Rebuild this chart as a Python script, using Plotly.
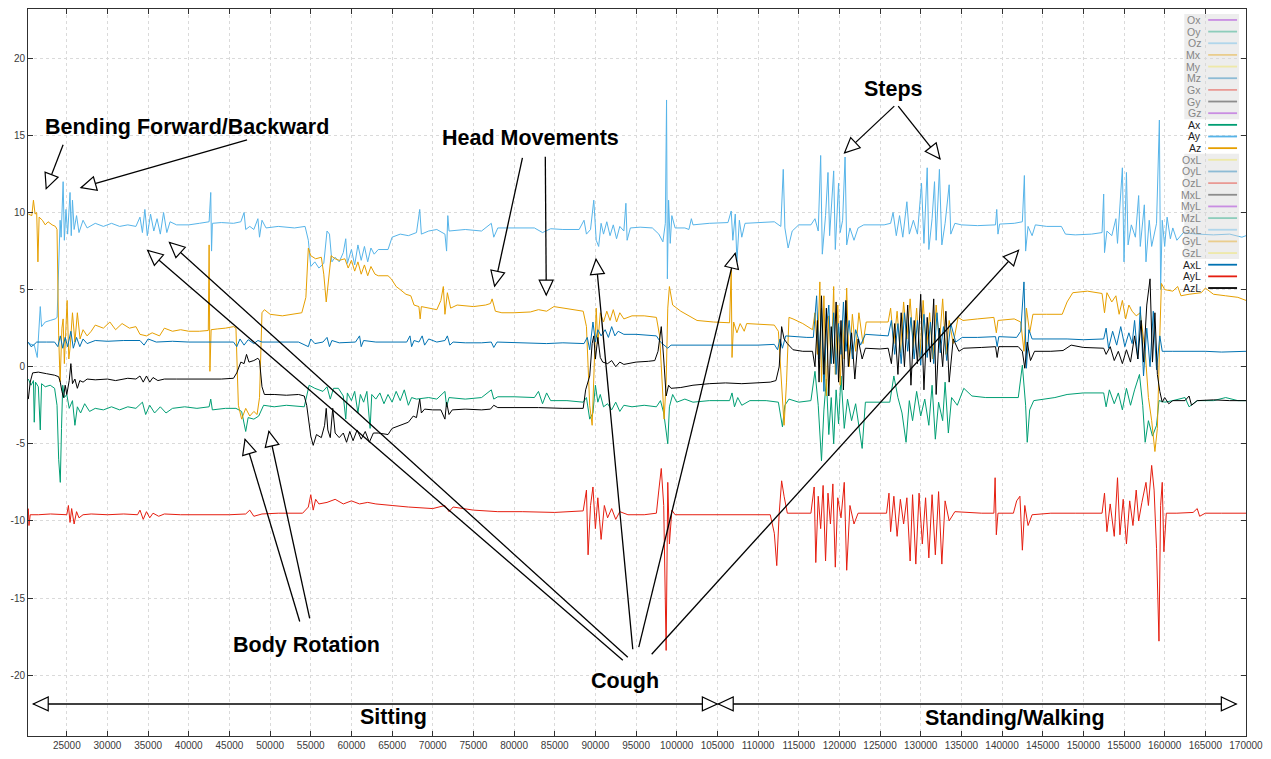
import plotly.graph_objects as go

# ---------------- axes ----------------
X_RANGE = [20230, 170000]
Y_RANGE = [-23.95, 23.2]
X_TICKS = list(range(25000, 170001, 5000))
Y_TICKS = [-20, -15, -10, -5, 0, 5, 10, 15, 20]

# ---------------- data (sample index, value) ----------------
AX = [(20270, -0.8), (20600, -1.2), (20900, -0.9), (21000, -3.6), (21150, -1.0), (21500, -1.3), (21740, -4.1), (21900, -1.1),
      (22350, -1.3), (22960, -1.2), (23500, -1.4), (23800, -2.5), (24000, -6.0), (24200, -7.5), (24350, -4.0), (24500, -1.2),
      (24700, -2.0), (25000, -1.8), (25300, -2.7), (25700, -2.2), (26000, -3.8), (26300, -2.6), (26700, -3.0), (27200, -2.4),
      (27800, -2.9), (28500, -2.7), (29500, -2.8), (30500, -2.6), (31500, -2.8), (32500, -2.6), (33500, -2.7), (34300, -2.3),
      (34700, -3.1), (35200, -2.5), (35800, -3.0), (36500, -2.6), (37200, -3.0), (38000, -2.7), (39500, -2.6), (41000, -2.7),
      (42500, -2.6), (42700, -2.1), (42900, -2.8), (44500, -2.7), (45800, -2.7), (46500, -2.9), (47000, -4.2), (47300, -3.3),
      (48000, -3.4), (48600, -3.2), (49200, -2.5), (50500, -2.6), (52000, -2.5), (54200, -2.6), (54800, -1.2), (55500, -1.4),
      (56500, -1.6), (57000, -1.3), (57400, -2.1), (57800, -1.4), (58400, -1.4), (59000, -1.9), (59300, -3.4), (59500, -1.7),
      (60000, -2.2), (60400, -1.6), (60800, -3.0), (61100, -1.8), (61500, -2.3), (61900, -1.6), (62300, -4.0), (62500, -1.8),
      (63000, -2.1), (63500, -1.7), (64000, -2.4), (64500, -1.8), (65000, -2.3), (65500, -1.6), (66000, -2.2), (66500, -1.5),
      (67000, -2.5), (67400, -2.0), (68000, -2.1), (69500, -2.0), (70500, -2.1), (71500, -1.6), (71700, -2.6), (72000, -2.0),
      (74000, -2.1), (76000, -2.0), (77200, -1.5), (77500, -2.1), (78000, -1.95), (80000, -1.95), (82500, -2.0), (83000, -1.6),
      (83500, -2.4), (84000, -1.7), (84500, -2.2), (86500, -2.2), (88500, -2.3), (88900, -2.0), (89300, -3.4), (89700, -3.0),
      (90000, -1.2), (90300, -2.3), (90600, -1.8), (91000, -2.6), (91500, -2.4), (92000, -2.8), (92500, -2.3), (93000, -2.9),
      (93500, -2.5), (94500, -2.6), (96000, -2.5), (97500, -2.6), (98000, -2.2), (98400, -3.0), (98900, -5.0), (99100, -2.6),
      (99500, -1.8), (100000, -2.3), (101000, -2.1), (102000, -2.3), (104000, -2.2), (106500, -2.2), (106800, -1.7),
      (107100, -2.6), (107500, -2.0), (108000, -2.5), (109000, -2.2), (111000, -2.2), (112500, -2.3), (113000, -3.9),
      (113300, -2.5), (113800, -2.1), (115000, -2.3), (116500, -2.2), (117000, -0.3), (117400, -2.5), (117800, -6.1),
      (118100, -2.8), (118400, -0.8), (118700, -4.4), (119000, -2.0), (119300, -5.0), (119600, -1.5), (119900, -3.7),
      (120200, -0.6), (120600, -4.0), (121000, -2.1), (121500, -3.5), (122000, -2.4), (122800, -5.3), (123200, -2.3),
      (125000, -2.3), (126200, -2.3), (126700, -0.6), (127200, -2.0), (127700, -3.0), (128200, -4.9), (128600, -2.2),
      (129000, -3.5), (129500, -1.6), (130000, -3.2), (130500, -2.1), (131000, -3.8), (131400, -1.2), (131800, -4.7),
      (132200, -2.3), (132700, -3.5), (133000, -1.0), (133400, -4.3), (133800, -2.0), (134500, -2.5), (135300, -1.4),
      (136300, -1.9), (138000, -2.0), (140000, -2.0), (142000, -2.0), (142500, 0.1), (142900, -2.5), (143100, -4.9),
      (143400, -2.8), (143900, -2.2), (145000, -2.1), (146500, -2.0), (148000, -1.8), (150000, -1.7), (152500, -1.7),
      (152800, -2.6), (153200, -1.5), (153800, -2.4), (154300, -1.7), (154800, -2.8), (155300, -1.4), (155800, -2.5),
      (156300, -1.5), (156900, -0.5), (157300, -2.5), (157600, -4.9), (158000, -3.5), (158500, -4.5), (159000, -3.8),
      (159300, -2.2), (160000, -2.3), (161000, -2.2), (162500, -2.0), (163000, -2.6), (164000, -2.2), (166000, -2.2),
      (167500, -2.0), (169000, -2.2), (170000, -2.2)]

AY = [(20270, 1.5), (21000, 1.4), (21370, 0.6), (21500, 1.6), (21740, 3.9), (21900, 2.6), (22350, 2.9), (22960, 3.0),
      (23570, 3.1), (23810, 3.2), (24000, 7.0), (24180, 9.5), (24300, 8.4), (24550, 12.0), (24700, 8.2), (24900, 10.2),
      (25100, 8.6), (25400, 11.3), (25550, 8.5), (25700, 10.8), (25900, 8.9), (26200, 9.8), (26500, 8.7), (27000, 9.5),
      (27500, 9.0), (28500, 9.3), (29500, 9.1), (30500, 9.3), (31500, 9.1), (32500, 9.2), (33500, 9.1), (34000, 9.7),
      (34300, 8.7), (34600, 10.2), (34900, 8.5), (35300, 9.9), (35700, 8.8), (36100, 9.6), (36500, 8.6), (36900, 10.0),
      (37300, 8.7), (37700, 9.4), (38500, 9.2), (40000, 9.2), (41300, 9.3), (42500, 9.4), (42700, 11.3), (42800, 7.5),
      (42900, 9.3), (44000, 9.35), (45500, 9.3), (46400, 9.4), (46800, 10.0), (47000, 8.9), (47500, 9.1), (48000, 8.9),
      (48500, 9.6), (48700, 8.4), (49000, 9.5), (49500, 9.0), (51000, 9.1), (53000, 9.0), (54300, 9.1), (54700, 8.2),
      (55000, 6.5), (55500, 6.8), (56000, 6.4), (56600, 6.7), (57000, 8.8), (57300, 8.6), (57600, 6.8), (58000, 7.1),
      (58500, 6.8), (59000, 7.4), (59300, 8.3), (59500, 6.7), (60000, 7.6), (60400, 6.6), (60800, 7.9), (61200, 6.9),
      (61600, 7.8), (62000, 6.8), (62400, 7.7), (62800, 7.3), (63300, 7.6), (64500, 7.6), (65000, 8.4), (66000, 8.6),
      (67000, 8.5), (68000, 8.7), (68400, 10.2), (68600, 8.6), (69500, 8.8), (70500, 8.9), (71500, 8.6), (71700, 7.5),
      (71850, 9.8), (72000, 8.8), (74000, 8.9), (76000, 8.8), (77200, 9.3), (77500, 8.4), (78000, 9.0), (80000, 9.0),
      (82500, 9.0), (83500, 8.7), (84500, 8.95), (86000, 8.9), (88000, 8.9), (88600, 9.5), (88900, 8.6), (89400, 8.9),
      (89800, 10.8), (90100, 8.2), (90400, 7.8), (90700, 9.3), (91000, 8.6), (91400, 9.4), (91800, 8.5), (92200, 9.2),
      (92600, 8.3), (93000, 9.1), (93500, 8.8), (93750, 10.6), (93900, 8.2), (94300, 9.0), (95500, 9.05), (97000, 9.0),
      (97800, 8.6), (98300, 8.1), (98600, 9.3), (98750, 17.3), (98850, 5.7), (99000, 10.8), (99200, 8.0), (99400, 9.8),
      (99800, 9.0), (101000, 9.0), (101500, 8.9), (101800, 9.6), (102000, 9.2), (104000, 9.3), (106300, 9.35),
      (106700, 10.1), (106900, 8.2), (107200, 9.9), (107400, 6.8), (107700, 9.5), (108000, 8.4), (108400, 9.3),
      (110000, 9.35), (112000, 9.4), (112800, 9.1), (113100, 12.8), (113300, 9.0), (113700, 7.7), (114200, 8.8),
      (115000, 9.2), (116500, 9.2), (117000, 9.6), (117400, 8.8), (117700, 13.7), (117900, 7.3), (118300, 9.8),
      (118600, 12.6), (118800, 8.5), (119300, 12.7), (119500, 7.6), (119900, 11.9), (120100, 8.7), (120400, 9.5),
      (120700, 13.6), (120900, 7.9), (121300, 9.0), (121800, 8.2), (122300, 9.0), (123000, 9.2), (125500, 9.2),
      (126300, 9.3), (126600, 10.0), (127000, 8.5), (127400, 9.8), (127800, 8.4), (128300, 10.7), (128600, 8.6),
      (129100, 9.5), (129600, 8.6), (130100, 11.9), (130400, 8.0), (130800, 12.9), (131000, 7.6), (131400, 9.6),
      (131700, 12.0), (131900, 8.2), (132300, 12.8), (132600, 7.9), (133000, 9.3), (133500, 11.8), (133700, 8.6),
      (134200, 9.3), (135000, 9.2), (137000, 9.15), (139200, 9.2), (139350, 10.2), (139500, 8.6), (139700, 9.25),
      (141500, 9.3), (142500, 9.4), (142750, 12.4), (142900, 7.5), (143200, 9.1), (143700, 8.5), (144100, 9.2),
      (145500, 9.1), (147300, 9.1), (147800, 8.6), (149000, 8.55), (151000, 8.6), (152300, 8.7), (152500, 11.2),
      (152600, 7.4), (152900, 8.8), (153500, 8.5), (154000, 9.6), (154200, 8.0), (154800, 12.9), (155000, 6.8),
      (155300, 12.6), (155500, 7.9), (155900, 9.2), (156400, 8.4), (156800, 11.1), (157000, 7.8), (157500, 10.5),
      (157700, 6.8), (158100, 9.5), (158400, 7.8), (159000, 9.3), (159350, 16.0), (159500, 5.0), (159700, 9.5),
      (160000, 7.8), (160300, 9.7), (160700, 8.3), (161000, 9.0), (161500, 8.2), (162300, 8.7), (164000, 8.6),
      (166000, 8.55), (168000, 8.6), (169500, 8.4), (170000, 8.5)]

AZ = [(20270, 9.9), (20700, 9.8), (20900, 10.8), (21100, 9.9), (21300, 10.0), (21450, 6.8), (21600, 9.7), (22000, 9.5),
      (22350, 9.2), (22700, 9.4), (23200, 9.2), (23600, 9.1), (23800, 8.9), (24000, 2.0), (24180, -1.0), (24400, 2.5),
      (24550, 3.1), (24700, 0.2), (25040, 4.3), (25250, 0.5), (25400, 1.2), (25700, 3.5), (26000, 1.6), (26300, 3.5),
      (26630, 1.8), (27000, 2.4), (27500, 2.0), (28000, 2.3), (28500, 2.7), (29500, 2.5), (30300, 2.9), (31000, 2.4),
      (31800, 2.8), (32700, 2.5), (33500, 2.6), (34000, 2.1), (34800, 2.0), (35500, 2.2), (36400, 2.0), (37000, 2.5),
      (38000, 2.3), (39000, 2.4), (40000, 2.3), (41300, 2.3), (42400, 2.35), (42500, 7.9), (42600, -0.3), (42750, 2.4),
      (43500, 2.45), (44500, 2.5), (45500, 2.6), (45800, 2.5), (46100, -2.5), (46500, -3.4), (47000, -2.7), (47500, -3.2),
      (48000, -2.9), (48400, -3.1), (48700, -2.0), (49000, 3.5), (49300, 3.7), (50000, 3.4), (51500, 3.3), (53000, 3.4),
      (53900, 3.5), (54400, 4.5), (54700, 7.7), (55000, 7.2), (55600, 7.0), (56300, 7.1), (56600, 6.0), (56900, 4.2),
      (57200, 5.5), (57500, 7.2), (58000, 7.0), (58500, 6.9), (59200, 7.0), (59600, 6.4), (60000, 6.9), (60400, 6.2),
      (60800, 6.8), (61200, 6.0), (61600, 6.6), (62000, 5.9), (62400, 6.5), (62900, 6.0), (63300, 5.9), (64500, 5.9),
      (64900, 5.7), (65500, 5.2), (66000, 5.0), (66700, 4.7), (67300, 4.6), (67700, 4.0), (68300, 3.9), (68450, 3.1),
      (68600, 3.9), (69500, 3.8), (70500, 3.7), (71000, 4.3), (71300, 5.2), (71500, 3.4), (71800, 4.8), (72200, 3.8),
      (73000, 4.0), (75000, 3.9), (76500, 4.0), (77100, 4.1), (77300, 4.4), (77700, 3.6), (78500, 3.5), (80000, 3.5),
      (82000, 3.55), (83000, 3.7), (84000, 3.6), (84900, 3.9), (86000, 3.8), (87500, 3.7), (88500, 3.6), (88900, 2.6),
      (89300, -2.5), (89600, -3.8), (89900, 0.5), (90100, 3.8), (90300, 1.5), (90600, 3.5), (91000, 2.9), (91400, 3.6),
      (91800, 3.0), (92200, 3.7), (92600, 2.9), (93000, 3.5), (93500, 3.1), (94500, 3.3), (96000, 3.3), (97500, 3.2),
      (97900, 2.0), (98200, -1.5), (98450, -3.4), (98700, -1.0), (98900, 3.8), (99100, 5.2), (99500, 4.0), (100500, 3.6),
      (101600, 3.3), (102500, 3.0), (104500, 2.9), (106500, 2.85), (106700, 6.3), (106800, 0.6), (107000, 2.9),
      (107400, 2.2), (107800, 2.8), (108300, 2.3), (108600, 2.8), (110000, 2.75), (112000, 2.7), (112500, 2.3),
      (112900, -1.5), (113200, -3.8), (113500, -1.0), (113800, 3.2), (114300, 3.1), (115500, 2.8), (116700, 2.4),
      (117000, 3.5), (117300, 0.8), (117600, 5.5), (117800, -1.0), (118100, 4.6), (118400, -1.9), (118700, 3.3),
      (119000, 0.2), (119300, 5.2), (119500, -0.5), (119800, 4.0), (120100, -1.2), (120400, 3.0), (120600, 0.5),
      (120900, 5.1), (121200, 0.0), (121600, 3.4), (122000, 1.0), (122400, 3.5), (122900, 1.5), (123300, 2.9),
      (125000, 2.9), (126000, 2.9), (126300, 3.8), (126700, 1.5), (127100, 3.6), (127500, 0.9), (127900, 4.2),
      (128300, 1.8), (128700, 4.4), (129100, 1.2), (129500, 3.8), (129900, 0.6), (130300, 4.3), (130700, 1.0),
      (131100, 3.5), (131500, 0.5), (131900, 4.0), (132300, 1.5), (132700, 4.4), (133100, 0.8), (133500, 3.0),
      (134000, 1.5), (134600, 3.2), (135200, 3.0), (137000, 3.1), (139000, 3.2), (139300, 2.2), (139500, 3.0),
      (141500, 3.1), (142300, 2.9), (142700, 1.0), (143000, 3.8), (143400, 2.2), (143800, 3.4), (145500, 3.4),
      (147400, 3.4), (148000, 4.2), (148700, 4.8), (150500, 4.9), (152300, 4.75), (152600, 3.5), (152900, 4.8),
      (153500, 4.2), (154000, 4.6), (154400, 3.4), (154800, 4.3), (155200, 3.1), (155600, 4.0), (156000, 3.6),
      (156500, 3.3), (157000, 3.5), (157600, 1.0), (158000, -2.0), (158400, -3.5), (158800, -5.5), (159100, -4.0),
      (159400, 2.0), (159600, 5.4), (160000, 5.0), (161000, 4.9), (161600, 5.2), (162000, 4.6), (163000, 4.7),
      (164500, 4.8), (165000, 5.1), (166000, 4.7), (167500, 4.6), (169000, 4.5), (170000, 4.3)]

AXL = [(20270, 1.6), (20600, 1.3), (20900, 1.4), (21300, 1.6), (22500, 1.6), (23500, 1.6), (23900, 1.3), (24200, 2.0),
       (24500, 1.2), (24800, 1.9), (25100, 1.3), (25500, 2.3), (25800, 1.2), (26200, 1.9), (26600, 1.3), (27000, 1.8),
       (27500, 1.5), (28500, 1.7), (30000, 1.65), (32000, 1.7), (34000, 1.7), (34500, 1.4), (35000, 1.8), (36000, 1.6),
       (38000, 1.65), (40000, 1.6), (42000, 1.6), (44000, 1.6), (45500, 1.6), (45900, 1.3), (46300, 1.8), (46800, 1.4),
       (47300, 1.75), (48000, 1.5), (48500, 1.7), (49000, 1.6), (51000, 1.6), (53500, 1.6), (54700, 1.3), (55000, 1.8),
       (55500, 1.5), (56500, 1.6), (57000, 1.9), (57300, 1.3), (57600, 1.7), (58500, 1.55), (60500, 1.6), (61000, 2.0),
       (61200, 1.3), (61500, 1.7), (63000, 1.6), (65000, 1.6), (66800, 1.6), (67200, 2.0), (67400, 1.3), (67700, 1.7),
       (68300, 1.6), (68700, 2.0), (69000, 1.4), (69500, 1.8), (70500, 1.6), (71500, 1.7), (71800, 2.0), (72100, 1.4),
       (72500, 1.6), (74000, 1.55), (76000, 1.55), (77200, 1.6), (77500, 1.25), (77900, 1.6), (80000, 1.55), (82000, 1.55),
       (84000, 1.5), (86000, 1.55), (88000, 1.5), (88600, 1.5), (89000, 1.9), (89300, 1.1), (89700, 2.9), (90000, 1.6),
       (90300, 2.4), (90700, 2.0), (91200, 2.4), (91600, 1.9), (92000, 2.6), (92400, 2.0), (92800, 2.3), (93500, 2.1),
       (95000, 2.1), (96500, 2.05), (97500, 2.0), (98000, 1.6), (98500, 1.4), (98900, 1.2), (99300, 1.4), (101000, 1.4),
       (104000, 1.4), (106500, 1.4), (108000, 1.4), (110000, 1.4), (112000, 1.45), (112400, 1.1), (112700, 1.8),
       (113000, 1.2), (113400, 2.0), (114500, 1.95), (116000, 1.9), (116800, 1.9), (117200, 4.6), (117500, 0.5),
       (117800, 3.8), (118100, -1.6), (118400, 2.5), (118700, 4.0), (119000, 0.2), (119300, 3.5), (119600, -0.5),
       (119900, 2.8), (120200, 0.8), (120500, 4.2), (120800, 1.0), (121200, 3.0), (121600, 0.5), (122000, 2.4),
       (122600, 1.4), (123200, 2.1), (125000, 2.05), (126000, 2.0), (126400, 3.0), (126800, 0.8), (127200, 2.8),
       (127600, 0.2), (128000, 3.5), (128400, 1.0), (128800, 3.2), (129200, 0.5), (129600, 3.0), (130000, 0.1),
       (130400, 3.4), (130800, 0.6), (131200, 2.9), (131600, 0.2), (132000, 3.5), (132400, 0.9), (132800, 2.6),
       (133200, 0.4), (133700, 2.8), (134300, 1.6), (135100, 1.9), (137000, 1.9), (139200, 1.95), (139400, 1.3),
       (139600, 1.95), (141800, 1.9), (142300, 2.3), (142700, 5.5), (143000, -0.1), (143300, 2.4), (143700, 1.8),
       (145500, 1.8), (148000, 1.8), (150000, 1.75), (152500, 1.8), (152800, 2.5), (153100, 1.2), (153600, 2.3),
       (154100, 1.4), (154600, 2.6), (155100, 1.3), (155600, 2.2), (156000, 1.5), (156300, 3.0), (156700, 0.5),
       (157000, 3.9), (157400, -0.6), (157800, 2.5), (158200, 0.0), (158600, 3.6), (159000, -0.2), (159400, 2.0),
       (159700, 1.0), (161000, 1.0), (163000, 1.0), (165000, 1.0), (167000, 0.95), (170000, 1.0)]

AYL = [(20270, -9.2), (20350, -10.3), (20500, -9.6), (21500, -9.6), (23000, -9.55), (25000, -9.6), (25200, -9.0),
       (25400, -10.1), (25600, -9.2), (25900, -10.2), (26200, -9.4), (26500, -9.8), (27000, -9.6), (28000, -9.55),
       (30000, -9.6), (32000, -9.55), (33700, -9.6), (34000, -9.3), (34400, -9.9), (34800, -9.4), (35200, -9.8),
       (35600, -9.5), (36300, -9.7), (37000, -9.55), (39000, -9.6), (42000, -9.6), (45000, -9.6), (47000, -9.55),
       (47500, -9.3), (48000, -9.7), (49000, -9.55), (51000, -9.5), (54000, -9.5), (54700, -9.1), (55000, -8.3),
       (55300, -9.3), (55600, -8.6), (56000, -8.9), (57000, -8.8), (58000, -8.6), (59000, -8.9), (60000, -8.7),
       (61000, -8.9), (62000, -8.8), (63000, -8.9), (65000, -9.0), (67000, -9.1), (70000, -9.2), (71500, -9.0),
       (72000, -9.4), (72500, -9.1), (75000, -9.3), (78000, -9.4), (81000, -9.4), (85000, -9.45), (88500, -9.35),
       (88900, -8.0), (89100, -12.2), (89400, -9.0), (89700, -7.8), (90000, -10.5), (90300, -8.5), (90700, -11.2),
       (91100, -9.0), (91500, -9.8), (92000, -9.2), (92500, -9.9), (93000, -9.4), (94000, -9.6), (96000, -9.6),
       (97500, -9.5), (97800, -8.0), (98100, -6.6), (98400, -9.0), (98700, -18.4), (98900, -7.5), (99100, -11.5),
       (99400, -9.3), (99800, -9.6), (102000, -9.6), (105000, -9.6), (108000, -9.6), (111500, -9.6), (112000, -10.8),
       (112300, -12.9), (112600, -9.5), (112900, -7.4), (113200, -8.4), (113600, -9.5), (115000, -9.5), (116500, -9.5),
       (116900, -7.8), (117100, -12.7), (117400, -8.4), (117700, -10.5), (118000, -7.7), (118300, -12.6), (118600, -8.2),
       (118900, -10.2), (119200, -7.6), (119500, -13.0), (119800, -8.5), (120200, -9.8), (120600, -7.5), (120900, -13.2),
       (121300, -9.0), (121800, -10.2), (122300, -9.5), (124000, -9.5), (125800, -9.5), (126100, -8.2), (126300, -10.7),
       (126700, -8.4), (127100, -11.0), (127500, -8.6), (127900, -10.2), (128300, -8.5), (128700, -12.6), (129000, -8.3),
       (129400, -12.8), (129800, -8.2), (130200, -11.5), (130600, -8.5), (131000, -12.4), (131400, -8.3), (131800, -12.2),
       (132200, -8.1), (132600, -12.8), (133000, -8.7), (133500, -10.0), (134200, -9.4), (135500, -9.45), (137500, -9.5),
       (139000, -9.5), (139150, -7.2), (139300, -10.9), (139500, -9.5), (141400, -9.5), (141800, -8.7), (142200, -8.4),
       (142500, -11.9), (142800, -9.0), (143200, -10.3), (143700, -9.6), (146000, -9.5), (149000, -9.5), (152300, -9.5),
       (152600, -8.2), (152900, -10.7), (153300, -8.9), (153800, -11.0), (154200, -7.2), (154500, -10.9), (154900, -8.6),
       (155300, -11.5), (155700, -8.7), (156100, -10.3), (156500, -8.0), (156800, -10.0), (157200, -8.8), (157700, -7.5),
       (158000, -9.0), (158400, -6.4), (158700, -8.0), (159000, -11.8), (159300, -17.8), (159500, -9.0), (159700, -7.5),
       (159900, -12.0), (160200, -9.5), (161500, -9.5), (163500, -9.45), (164000, -9.2), (164300, -9.7), (165000, -9.5),
       (167000, -9.5), (170000, -9.5)]

AZL = [(20270, -2.1), (20500, -1.0), (20800, -0.4), (21500, -0.35), (22500, -0.45), (23500, -0.55), (24000, -0.65),
       (24200, -1.0), (24400, -1.6), (24600, -2.0), (24800, -1.2), (25000, -1.8), (25300, -0.9), (25500, 0.2),
       (25700, -1.1), (26000, -0.8), (26300, -1.4), (26600, -0.9), (27000, -1.0), (27500, -0.8), (28500, -0.85),
       (30000, -0.8), (31000, -0.9), (32500, -0.75), (33500, -0.8), (34000, -0.6), (34400, -1.0), (34800, -0.6),
       (35200, -1.0), (35600, -0.7), (36200, -0.9), (37000, -0.8), (38500, -0.8), (40000, -0.8), (42000, -0.8),
       (44000, -0.8), (45500, -0.75), (45900, -0.4), (46400, 0.3), (46800, 0.2), (47100, 0.8), (47400, 0.3),
       (48000, 0.4), (48500, 0.55), (48700, 0.4), (49000, -1.3), (49300, -1.8), (50500, -1.8), (52000, -1.85),
       (53500, -1.8), (54200, -1.9), (54500, -2.5), (55000, -4.5), (55300, -5.1), (55700, -4.4), (56300, -4.6),
       (56700, -3.8), (56900, -2.7), (57100, -4.1), (57400, -4.6), (57700, -2.7), (58000, -4.3), (58500, -4.6),
       (59000, -4.3), (59400, -4.9), (59800, -4.2), (60200, -4.8), (60700, -4.1), (61200, -4.7), (61700, -4.2),
       (62200, -4.9), (62700, -4.3), (63300, -4.3), (64500, -4.4), (65000, -4.0), (66000, -3.8), (67000, -3.6),
       (67600, -3.2), (68000, -3.3), (68400, -2.1), (68600, -3.0), (69000, -2.75), (70000, -2.8), (71000, -2.8),
       (71500, -3.4), (71700, -2.3), (72000, -3.1), (72400, -2.8), (74000, -2.75), (76000, -2.8), (77100, -2.75),
       (77500, -2.5), (78000, -2.65), (80000, -2.65), (83000, -2.65), (86000, -2.7), (88500, -2.7), (88800, -1.5),
       (89300, -0.6), (89600, 1.5), (89800, 2.0), (90000, 0.5), (90300, 1.9), (90600, 0.6), (90900, 0.3), (91500, 0.2),
       (92000, 0.4), (92500, 0.0), (93000, 0.3), (93500, 0.15), (95000, 0.3), (96500, 0.35), (97300, 0.4), (97700, 1.0),
       (98100, 2.6), (98400, 0.5), (98700, -1.9), (99000, -1.2), (99300, -1.4), (100500, -1.35), (102000, -1.2),
       (104000, -1.1), (106000, -1.05), (108000, -1.1), (110000, -1.05), (111500, -1.0), (112200, -0.9), (112600, 0.0),
       (112900, 2.6), (113200, 1.8), (113600, 1.5), (114300, 1.1), (115500, 1.0), (116700, 1.0), (117000, 0.0),
       (117300, 3.0), (117500, -1.0), (117800, 4.6), (118100, -0.5), (118400, 3.8), (118700, -1.9), (119000, 2.6),
       (119300, 0.2), (119600, 4.2), (119900, -1.0), (120200, 3.0), (120500, -1.5), (120800, 4.3), (121100, 0.0),
       (121500, 2.2), (121900, -0.8), (122300, 1.8), (122800, 0.5), (123200, 1.2), (125000, 1.15), (126000, 1.2),
       (126400, 0.2), (126800, 2.8), (127200, -0.5), (127600, 3.5), (128000, 0.0), (128400, 4.0), (128800, -1.2),
       (129200, 3.0), (129600, 0.2), (130000, 4.7), (130400, -1.5), (130800, 3.2), (131200, 0.3), (131600, 4.4),
       (131900, -1.8), (132300, 2.5), (132700, 0.0), (133100, 3.6), (133500, -1.0), (134000, 1.8), (134700, 1.0),
       (135300, 1.2), (137500, 1.25), (139200, 1.3), (139400, 0.6), (139600, 1.3), (142000, 1.3), (142500, 1.0),
       (142800, -0.1), (143100, 1.6), (143500, 0.4), (144000, 1.0), (146000, 1.0), (147500, 1.05), (148500, 1.4),
       (150000, 1.25), (152500, 1.2), (152800, 0.8), (153300, 1.3), (153800, 0.4), (154300, 1.0), (154800, 0.2),
       (155300, 1.1), (155800, 0.3), (156300, 2.0), (156700, 0.5), (157100, 3.0), (157400, 0.3), (157800, 4.0),
       (158200, 5.7), (158500, 0.3), (158800, 3.5), (159100, -0.5), (159400, -1.6), (159700, -2.3), (160000, -2.0),
       (160500, -2.4), (161000, -2.2), (162500, -2.2), (163000, -1.9), (163300, -2.5), (164000, -2.2), (166000, -2.15),
       (168000, -2.2), (170000, -2.2)]

SERIES = [("Ax", AX, "#009E73"), ("Ay", AY, "#56B4E9"), ("Az", AZ, "#E69F00"),
          ("AxL", AXL, "#0072B2"), ("AyL", AYL, "#E51E10"), ("AzL", AZL, "#000000")]

LEGEND_NAMES = ["Ox", "Oy", "Oz", "Mx", "My", "Mz", "Gx", "Gy", "Gz", "Ax", "Ay", "Az",
                "OxL", "OyL", "OzL", "MxL", "MyL", "MzL", "GxL", "GyL", "GzL", "AxL", "AyL", "AzL"]
LEGEND_COLORS = ["#9400D3", "#009E73", "#56B4E9", "#E69F00", "#F0E442", "#0072B2", "#E51E10", "#000000",
                 "#9400D3", "#009E73", "#56B4E9", "#E69F00", "#F0E442", "#0072B2", "#E51E10", "#000000",
                 "#9400D3", "#009E73", "#56B4E9", "#E69F00", "#F0E442", "#0072B2", "#E51E10", "#000000"]
SHOWN = {"Ax", "Ay", "Az", "AxL", "AyL", "AzL"}

# annotation labels (text, x, y)
LABELS = [("Bending Forward/Backward", 39829, 15.55), ("Head Movements", 82005, 14.85), ("Steps", 126626, 18.0),
          ("Body Rotation", 54498, -18.05), ("Cough", 93618, -20.4), ("Sitting", 65135, -22.7),
          ("Standing/Walking", 141540, -22.8)]
# arrows: (tail x, tail y, tip x, tip y, double-headed)
ARROWS = [(24548, 14.39, 22469, 11.55, False), (47164, 14.71, 26748, 11.61, False),
          (81027, 13.55, 77604, 5.23, False), (83839, 13.61, 83961, 4.65, False),
          (126748, 16.90, 120636, 13.87, False), (127237, 16.90, 132372, 13.48, False),
          (53643, -16.52, 46919, -4.71, False), (54866, -16.32, 49853, -4.19, False),
          (93374, -19.03, 34939, 7.55, False), (93985, -18.84, 37628, 8.06, False),
          (94596, -18.32, 90074, 6.97, False), (95330, -18.19, 107189, 7.35, False),
          (96919, -18.65, 142030, 7.55, False),
          (20880, -21.87, 104988, -21.87, True), (105110, -21.87, 168803, -21.87, True)]

# ---------------- figure ----------------
W, H = 1271, 759
ML, MR, MT, MB = 28, 19, 8, 20
PW, PH = W - ML - MR, H - MT - MB
SX = PW / (X_RANGE[1] - X_RANGE[0])
SY = PH / (Y_RANGE[1] - Y_RANGE[0])

fig = go.Figure()
for name, pts, col in SERIES:
    fig.add_trace(go.Scatter(x=[p[0] for p in pts], y=[p[1] for p in pts], mode="lines", name=name,
                             line=dict(color=col, width=1), showlegend=False, hoverinfo="skip"))

shapes = []
annotations = []


def head(tx, ty, fx, fy, L=15.0, w=7.0):
    dx = (tx - fx) * SX
    dy = (ty - fy) * SY
    n = (dx * dx + dy * dy) ** 0.5
    ux, uy = dx / n, dy / n
    bx, by = -ux * L, -uy * L
    p1 = (tx + (bx - uy * w) / SX, ty + (by + ux * w) / SY)
    p2 = (tx + (bx + uy * w) / SX, ty + (by - ux * w) / SY)
    return dict(type="path", xref="x", yref="y",
                path=f"M {tx},{ty} L {p1[0]},{p1[1]} L {p2[0]},{p2[1]} Z",
                fillcolor="white", line=dict(color="black", width=1.2), layer="above")


heads = []
for ax_, ay_, tx, ty, dbl in ARROWS:
    shapes.append(dict(type="line", xref="x", yref="y", x0=ax_, y0=ay_, x1=tx, y1=ty,
                       line=dict(color="black", width=1.3 if not dbl else 1.5), layer="above"))
    heads.append(head(tx, ty, ax_, ay_))
    if dbl:
        heads.append(head(ax_, ay_, tx, ty))
shapes += heads

for txt, x, y in LABELS:
    annotations.append(dict(text=txt, x=x, y=y, xref="x", yref="y", showarrow=False,
                            font=dict(family="Liberation Sans, Arial", size=21.5, color="black", weight="bold"),
                            xanchor="center", yanchor="middle"))


# legend drawn gnuplot-style (text on the left, sample on the right)
def px2paper(px, py):
    return (px - ML) / PW, (MT + PH - py) / PH


LEG_TOP, LEG_STEP = 19.0, 11.72
groups = [(0, 8), (12, 20)]
for a, b in groups:
    x0, y0 = px2paper(1190, LEG_TOP + a * LEG_STEP - 6)
    x1, y1 = px2paper(1245, LEG_TOP + b * LEG_STEP + 6)
    shapes.append(dict(type="rect", xref="paper", yref="paper", x0=x0, x1=x1, y0=y1, y1=y0,
                       fillcolor="rgba(215,215,215,0.45)", line=dict(width=0), layer="above"))
for i, (nm, col) in enumerate(zip(LEGEND_NAMES, LEGEND_COLORS)):
    py = LEG_TOP + i * LEG_STEP
    on = nm in SHOWN
    tx, ty = px2paper(1209, py)
    annotations.append(dict(text=nm, x=tx, y=ty, xref="paper", yref="paper", showarrow=False,
                            xanchor="right", yanchor="middle",
                            font=dict(family="Liberation Sans, Arial", size=10.5,
                                      color="#1e1e1e" if on else "#858585")))
    lx0, ly = px2paper(1214, py)
    lx1, _ = px2paper(1243, py)
    shapes.append(dict(type="line", xref="paper", yref="paper", x0=lx0, x1=lx1, y0=ly, y1=ly,
                       line=dict(color=col, width=1.8), opacity=1.0 if on else 0.4, layer="above"))

axis_common = dict(showline=True, linecolor="#303030", linewidth=1, mirror="allticks", ticks="inside",
                   ticklen=5, tickcolor="#303030", showgrid=True, gridcolor="#dadada", griddash="dot",
                   gridwidth=1, zeroline=False,
                   tickfont=dict(family="Liberation Sans, Arial", size=10, color="#3a3a3a"))

fig.update_layout(
    width=W, height=H, autosize=False,
    margin=dict(l=ML, r=MR, t=MT, b=MB, pad=0),
    paper_bgcolor="white", plot_bgcolor="white",
    xaxis=dict(range=X_RANGE, tickvals=X_TICKS, ticktext=[str(v) for v in X_TICKS], **axis_common),
    yaxis=dict(range=Y_RANGE, tickvals=Y_TICKS, ticktext=[str(v) for v in Y_TICKS], **axis_common),
    shapes=shapes, annotations=annotations, showlegend=False,
)

fig.write_html("out.html")
